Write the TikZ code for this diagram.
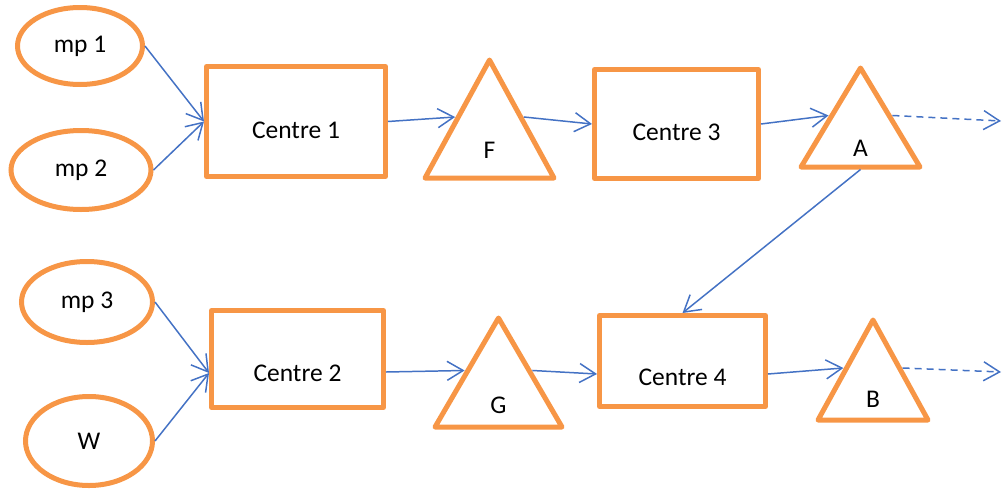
\documentclass[tikz,border=0pt]{standalone}
\usepackage{fontspec}
\setmainfont{Carlito}
\usetikzlibrary{positioning,arrows.meta,shapes.geometric}
\definecolor{unit}{RGB}{247,150,70}
\definecolor{flow}{RGB}{68,114,196}
\tikzset{
  src/.style={draw=unit, ellipse, line width=0.1cm, inner sep=0pt},
  box/.style={draw=unit, line width=0.1cm, line join=round, inner sep=2pt,
              text height=#1, text depth=0pt},
  box/.default=0.67cm,
  tri/.style={draw=unit, line width=0.1cm, line join=round, isosceles triangle,
              isosceles triangle stretches, shape border rotate=90, inner sep=0pt,
              anchor=lower side},
  tag/.style={inner sep=0pt},
  call/.style={draw=flow, line width=0.85pt,
               -{Straight Barb[length=0.32cm, width=0.38cm]}},
  exit/.style={call, dash pattern=on 0.14cm off 0.1cm},
}

\begin{document}
\begin{tikzpicture}[font=\fontsize{14.5}{17}\selectfont]
  \useasboundingbox (0,0) rectangle (20.06,9.8);

  %% raw inputs
  \node[src, minimum width=2.50cm, minimum height=1.54cm] (mp1) at (1.60,8.88) {mp 1};
  \node[src, minimum width=2.80cm, minimum height=1.58cm] (mp2) at (1.62,6.40) {mp 2};
  \node[src, minimum width=2.62cm, minimum height=1.62cm] (mp3) at (1.74,3.76) {mp 3};
  \node[src, minimum width=2.54cm, minimum height=1.78cm] (W) at (1.78,0.98) {W};

  %% centres
  \node[box, minimum width=3.58cm, minimum height=2.20cm] (C1) at (5.92,7.37) {Centre 1};
  \node[box, minimum width=3.28cm, minimum height=2.18cm] (C3) at (13.53,7.32) {Centre 3};
  \node[box=0.89cm, minimum width=3.44cm, minimum height=1.94cm] (C2) at (5.95,2.62) {Centre 2};
  \node[box=0.97cm, minimum width=3.32cm, minimum height=1.82cm] (C4) at (13.65,2.58) {Centre 4};

  %% products
  \node[tri, minimum width=2.58cm, minimum height=2.36cm] (F) at (9.79,6.19) {};
  \node[tri, minimum width=2.38cm, minimum height=1.98cm] (A) at (17.21,6.41) {};
  \node[tri, minimum width=2.54cm, minimum height=2.18cm] (G) at (9.97,1.21) {};
  \node[tri, minimum width=2.20cm, minimum height=2.00cm] (B) at (17.46,1.35) {};
  \node[tag] (Ft) at ([yshift=0.60cm]F.lower side) {F};
  \node[tag] (At) at ([yshift=0.43cm]A.lower side) {A};
  \node[tag] (Gt) at ([yshift=0.49cm]G.lower side) {G};
  \node[tag] (Bt) at ([yshift=0.47cm]B.lower side) {B};

  \coordinate (Aout) at (20.02,7.38);
  \coordinate (Bout) at (20.02,2.36);

  %% flows, top line
  \draw[call] (mp1.east) -- (C1.west);
  \draw[call] (mp2.east) -- (C1.west);
  \draw[call] (C1.east) -- (F.left side);
  \draw[call] (F.right side) -- (C3.west);
  \draw[call] (C3.east) -- (A.left side);
  \draw[exit] (A.right side) -- (Aout);
  \draw[call] (A.lower side) -- (C4.north);

  %% flows, bottom line
  \draw[call] (mp3.east) -- ([yshift=-0.28cm]C2.west);
  \draw[call] (W.east) -- ([yshift=-0.28cm]C2.west);
  \draw[call] ([yshift=-0.26cm]C2.east) -- (G.left side);
  \draw[call] (G.right side) -- ([yshift=-0.26cm]C4.west);
  \draw[call] ([yshift=-0.26cm]C4.east) -- (B.left side);
  \draw[exit] (B.right side) -- (Bout);
\end{tikzpicture}
\end{document}
